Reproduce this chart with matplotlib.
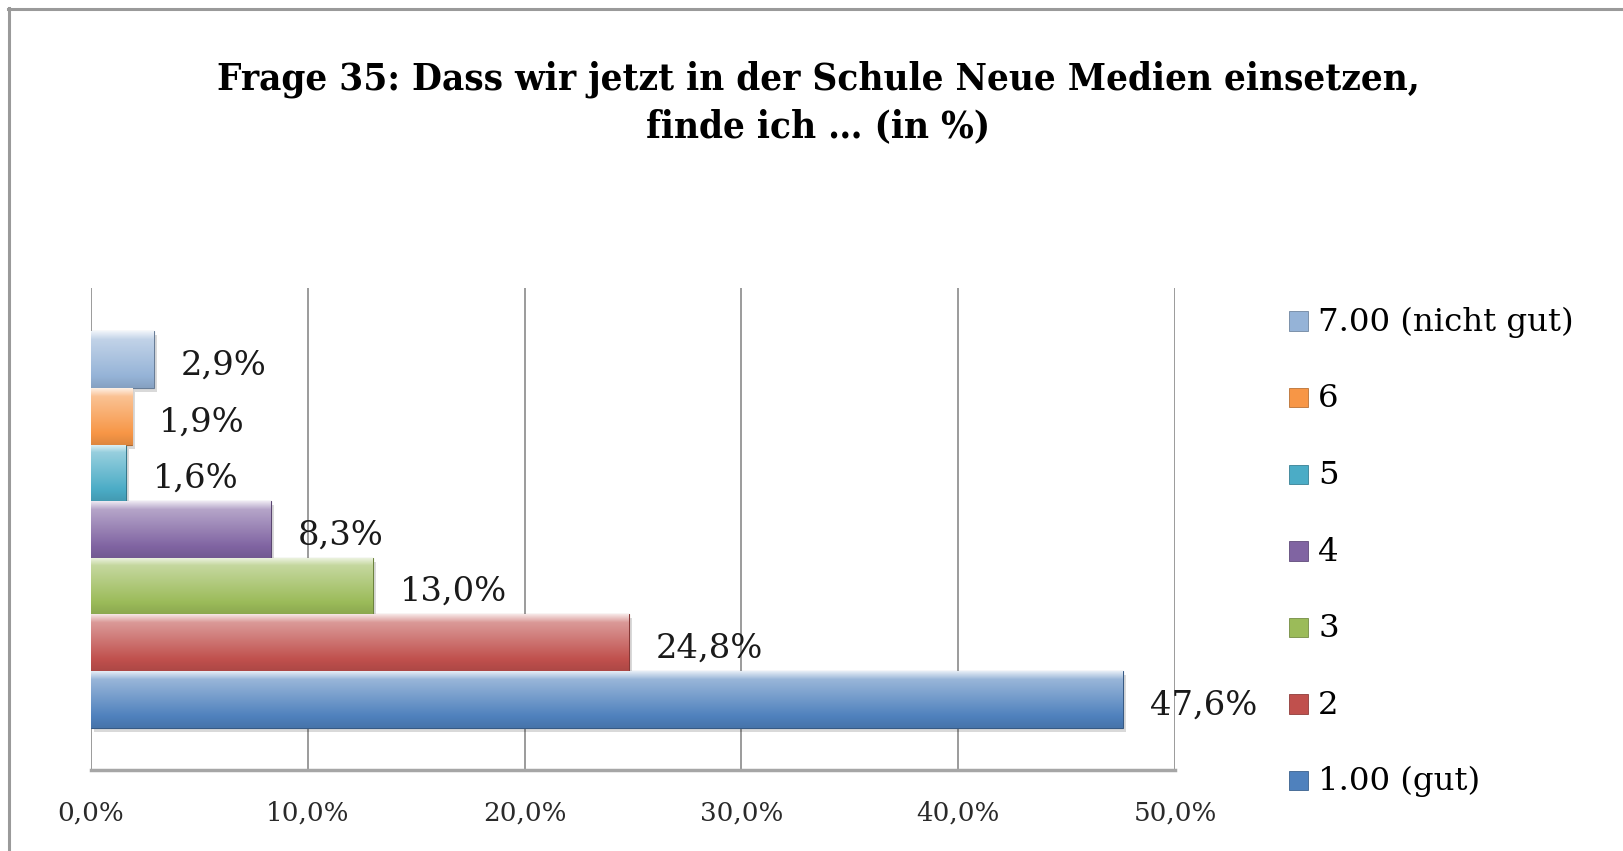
import numpy as np
import matplotlib
matplotlib.use('Agg')
import matplotlib.pyplot as plt
from matplotlib.colors import to_rgb
from matplotlib.patches import Patch, Rectangle
from matplotlib.lines import Line2D
import matplotlib.transforms as mtransforms
from matplotlib import font_manager

# ---------------- data ----------------
categories = ['1.00 (gut)', '2', '3', '4', '5', '6', '7.00 (nicht gut)']
values = [47.6, 24.8, 13.0, 8.3, 1.6, 1.9, 2.9]
value_labels = ['47,6%', '24,8%', '13,0%', '8,3%', '1,6%', '1,9%', '2,9%']
colors = ['#4F81BD', '#C0504D', '#9BBB59', '#8064A2', '#4BACC6', '#F79646', '#95B3D7']
xticks = [0, 10, 20, 30, 40, 50]
xtick_labels = ['0,0%', '10,0%', '20,0%', '30,0%', '40,0%', '50,0%']
title_lines = ['Frage 35: Dass wir jetzt in der Schule Neue Medien einsetzen,',
               'finde ich … (in %)']

FONT = 'DejaVu Serif'
W, H = 1624, 851
fig = plt.figure(figsize=(W / 100, H / 100), dpi=100)
fig.patch.set_facecolor('white')

# plot area in pixels
L, R, T, B = 91, 1175, 288, 770
ax = fig.add_axes([L / W, 1 - B / H, (R - L) / W, (B - T) / H])
ax.set_xlim(0, 50)
ax.set_ylim(-0.5, 0.5)

bar_h = 0.1174
group_bottom = -0.412

def mix(c, target, t):
    c = np.array(to_rgb(c)); target = np.array(target)
    return c + (target - c) * t

renderer = fig.canvas.get_renderer()
shadow_tr = mtransforms.offset_copy(ax.transData, fig=fig, x=3, y=-4, units='dots')

for i, (v, col) in enumerate(zip(values, colors)):
    yc = group_bottom + bar_h * (i + 0.5)
    y0, y1 = yc - bar_h / 2, yc + bar_h / 2
    ax.add_patch(Rectangle((0, y0), v, bar_h, transform=shadow_tr,
                           facecolor='#000000', alpha=0.15, lw=0, zorder=2))
    bars = ax.barh([yc], [v], height=bar_h, color=col, edgecolor=mix(col, (0, 0, 0), 0.3),
                   linewidth=0.8, zorder=3)
    rect = bars.patches[0]
    n = 64
    t = np.linspace(0, 1, n)[:, None]
    base = np.array(to_rgb(col))
    top = mix(col, (1, 1, 1), 0.85)
    mid = mix(col, (1, 1, 1), 0.42)
    bot = mix(col, (0, 0, 0), 0.10)
    grad = np.where(t < 0.14, top + (mid - top) * (t / 0.14),
                    np.where(t < 0.8, mid + (base - mid) * ((t - 0.14) / 0.66),
                             base + (bot - base) * ((t - 0.8) / 0.2)))
    img = grad[:, None, :].repeat(2, axis=1)
    im = ax.imshow(img, extent=(0, v, y0, y1), aspect='auto', origin='upper',
                   zorder=3.5, interpolation='bilinear')
    im.set_clip_path(rect)
    ax.annotate(value_labels[i], xy=(v, yc), xytext=(27, -6), textcoords='offset pixels',
                ha='left', va='center', fontsize=24, family=FONT, color='#1a1a1a', zorder=5)

ax.set_xlim(0, 50)
ax.set_ylim(-0.5, 0.5)

ax.set_xticks(xticks)
ax.set_xticklabels(xtick_labels, family=FONT, fontsize=17, color='#2a2a2a')
ax.set_yticks([])
ax.tick_params(axis='x', length=0, pad=22)
ax.grid(axis='x', color='#8a8a8a', linewidth=1.2, zorder=0)
ax.set_axisbelow(True)
for s in ['top', 'right', 'left']:
    ax.spines[s].set_visible(False)
ax.spines['bottom'].set_color('#a6a6a6')
ax.spines['bottom'].set_linewidth(2.5)

# title (two lines placed at measured positions)
t1 = fig.text(818 / W, 1 - 79 / H, title_lines[0], ha='center', va='center', family=FONT,
              fontweight='bold', fontstretch='condensed', fontsize=24, color='#000000')
t2 = fig.text(818 / W, 1 - 127 / H, title_lines[1], ha='center', va='center', family=FONT,
              fontweight='bold', fontstretch='condensed', fontsize=24, color='#000000')

# legend
handles = [Patch(facecolor=c, edgecolor=mix(c, (0, 0, 0), 0.25), linewidth=0.6) for c in colors]
leg = fig.legend(handles[::-1], categories[::-1], loc='center left',
                 bbox_to_anchor=(1289 / W, 1 - 552 / H), frameon=False,
                 prop={'family': FONT, 'size': 20}, handlelength=0.7, handleheight=0.7,
                 handletextpad=0.35, labelspacing=1.64, borderpad=0, borderaxespad=0)

def fit(txt, target):
    w = txt.get_window_extent(renderer).width
    txt.set_fontsize(txt.get_fontsize() * target / w)

fit(t1, 1203)
t2.set_fontsize(t1.get_fontsize())
lbls = list(ax.texts)
fit(lbls[0], 107)
for l in lbls[1:]:
    l.set_fontsize(lbls[0].get_fontsize())
fig.canvas.draw()
tl = ax.get_xticklabels()
w50 = tl[-1].get_window_extent(renderer).width
fs = tl[-1].get_fontsize() * 83 / w50
for t_ in tl:
    t_.set_fontsize(fs)
ltexts = leg.get_texts()
w7 = ltexts[0].get_window_extent(renderer).width
lfs = ltexts[0].get_fontsize() * 256 / w7
for t_ in ltexts:
    t_.set_fontsize(lfs)

# chart border (top and left edges visible)
fig.add_artist(Line2D([8 / W, 1], [1 - 9 / H, 1 - 9 / H], transform=fig.transFigure,
                      color='#9a9a9a', linewidth=2.2))
fig.add_artist(Line2D([9 / W, 9 / W], [0, 1 - 8 / H], transform=fig.transFigure,
                      color='#9a9a9a', linewidth=2.2))

fig.savefig('out.png', dpi=100, facecolor='white')
